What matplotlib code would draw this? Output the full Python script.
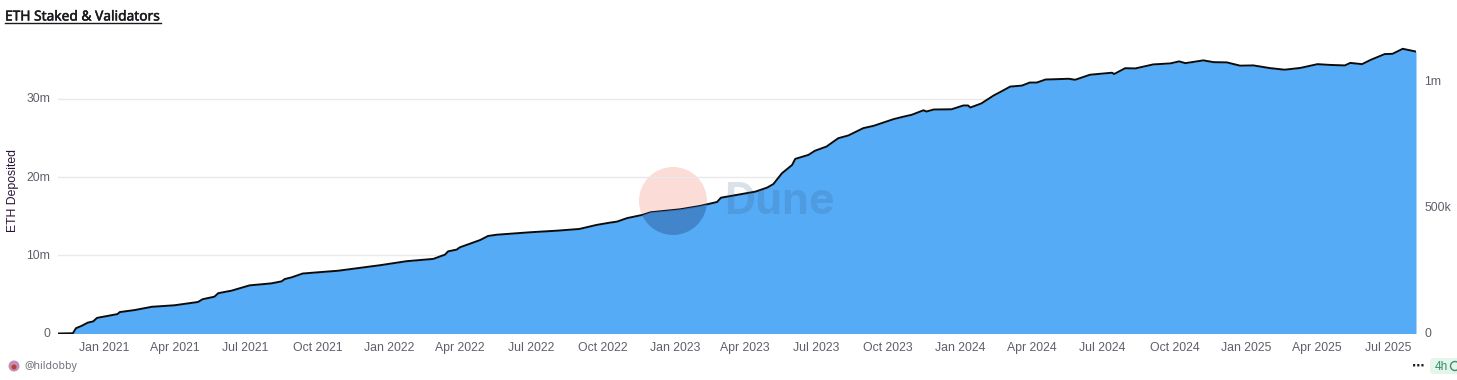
import matplotlib
matplotlib.use("Agg")
import matplotlib.pyplot as plt
import matplotlib.dates as mdates
import matplotlib.patheffects as pe
from matplotlib.patches import Circle, FancyBboxPatch
from matplotlib.transforms import ScaledTranslation
from datetime import datetime

plt.rcParams['font.family'] = ['Liberation Sans', 'DejaVu Sans']

dates = ['2020-11-03', '2020-11-22', '2020-11-26', '2020-12-03', '2020-12-11', '2020-12-18', '2020-12-23', '2021-01-06',
         '2021-01-18', '2021-01-21', '2021-02-09', '2021-03-03', '2021-04-01', '2021-05-01', '2021-05-07', '2021-05-22',
         '2021-05-27', '2021-06-13', '2021-07-06', '2021-08-03', '2021-08-16', '2021-08-20', '2021-08-29', '2021-09-12',
         '2021-10-06', '2021-10-27', '2021-12-20', '2022-01-23', '2022-02-26', '2022-03-13', '2022-03-17', '2022-03-28',
         '2022-04-01', '2022-04-27', '2022-05-07', '2022-05-18', '2022-07-01', '2022-08-03', '2022-09-01', '2022-09-23',
         '2022-10-10', '2022-10-19', '2022-11-01', '2022-11-21', '2022-12-01', '2023-01-08', '2023-02-02', '2023-02-24',
         '2023-03-01', '2023-04-14', '2023-04-29', '2023-05-07', '2023-05-18', '2023-05-31', '2023-06-04', '2023-06-21',
         '2023-06-29', '2023-07-14', '2023-07-29', '2023-08-11', '2023-08-30', '2023-09-12', '2023-10-08', '2023-10-21',
         '2023-10-31', '2023-11-15', '2023-11-19', '2023-11-28', '2023-12-21', '2024-01-05', '2024-01-11', '2024-01-14',
         '2024-01-28', '2024-02-13', '2024-02-21', '2024-03-05', '2024-03-20', '2024-03-30', '2024-04-08', '2024-04-19',
         '2024-05-19', '2024-05-27', '2024-06-15', '2024-07-13', '2024-07-16', '2024-07-30', '2024-08-12', '2024-09-04',
         '2024-09-26', '2024-10-07', '2024-10-15', '2024-11-07', '2024-11-20', '2024-12-07', '2024-12-24', '2025-01-10',
         '2025-02-01', '2025-02-19', '2025-03-11', '2025-04-02', '2025-04-18', '2025-05-07', '2025-05-14', '2025-05-29',
         '2025-06-09', '2025-06-27', '2025-07-07', '2025-07-20', '2025-08-06']

# ETH Deposited, millions
eth_deposited = [0, 0.03, 0.66, 0.96, 1.38, 1.56, 1.98, 2.24,
                 2.47, 2.75, 3.0, 3.43, 3.61, 4.03, 4.37, 4.71,
                 5.14, 5.47, 6.16, 6.42, 6.68, 6.97, 7.19, 7.65,
                 7.86, 8.03, 8.72, 9.23, 9.53, 10.08, 10.51, 10.72,
                 11.02, 11.96, 12.47, 12.63, 12.94, 13.15, 13.36, 13.87,
                 14.17, 14.3, 14.73, 15.15, 15.5, 15.88, 16.3, 16.81,
                 17.37, 18.13, 18.64, 19.08, 20.49, 21.55, 22.31, 22.83,
                 23.34, 23.89, 24.96, 25.29, 26.24, 26.53, 27.39, 27.72,
                 27.94, 28.54, 28.36, 28.62, 28.67, 29.13, 29.13, 28.87,
                 29.39, 30.41, 30.84, 31.56, 31.69, 32.07, 32.07, 32.46,
                 32.54, 32.42, 33.06, 33.31, 33.15, 33.91, 33.86, 34.37,
                 34.5, 34.76, 34.55, 34.89, 34.68, 34.63, 34.21, 34.25,
                 33.91, 33.7, 33.95, 34.42, 34.33, 34.25, 34.59, 34.42,
                 34.97, 35.7, 35.74, 36.38, 36.04]

# validators, thousands
validators = [0, 1, 21, 30, 43, 48, 62, 70,
              77, 85, 93, 106, 112, 125, 136, 146,
              160, 170, 191, 199, 207, 216, 223, 238,
              244, 249, 271, 287, 296, 313, 326, 333,
              342, 371, 387, 392, 402, 408, 415, 431,
              440, 444, 458, 471, 481, 493, 506, 522,
              539, 563, 579, 593, 636, 669, 693, 709,
              725, 742, 775, 786, 815, 824, 851, 861,
              868, 886, 881, 889, 890, 905, 905, 897,
              913, 945, 958, 980, 984, 996, 996, 1008,
              1011, 1007, 1027, 1035, 1030, 1053, 1052, 1068,
              1072, 1080, 1073, 1084, 1077, 1076, 1063, 1064,
              1053, 1047, 1054, 1069, 1066, 1064, 1074, 1069,
              1086, 1109, 1110, 1130, 1119]

tick_dates = ['2021-01-01', '2021-04-01', '2021-07-01', '2021-10-01', '2022-01-01', '2022-04-01', '2022-07-01',
              '2022-10-01', '2023-01-01', '2023-04-01', '2023-07-01', '2023-10-01', '2024-01-01', '2024-04-01',
              '2024-07-01', '2024-10-01', '2025-01-01', '2025-04-01', '2025-07-01']

x = [datetime.strptime(d, '%Y-%m-%d') for d in dates]
ticks = [datetime.strptime(d, '%Y-%m-%d') for d in tick_dates]
tick_color = '#5f5f6b'
W, H = 1457, 380

fig = plt.figure(figsize=(W / 100, H / 100), dpi=100, facecolor='white')
rect = [58 / W, 1 - 333.5 / H, (1416 - 58) / W, (333.5 - 42) / H]

# pixel axes for the things that are not data
under = fig.add_axes([0, 0, 1, 1], zorder=0)
over = fig.add_axes([0, 0, 1, 1], zorder=3)
for a in (under, over):
    a.set_xlim(0, W)
    a.set_ylim(H, 0)
    a.axis('off')
over.patch.set_alpha(0)

ax = fig.add_axes(rect, zorder=1)
ax.patch.set_alpha(0)
area = ax.fill_between(x, eth_deposited, 0, color='#56abf6', lw=0)
ax.set_xlim(datetime(2020, 11, 3), datetime(2025, 8, 6))
ax.set_ylim(0, 37.28)
ax.set_yticks([0, 10, 20, 30])
ax.set_yticklabels(['0', '10m', '20m', '30m'])
ax.set_xticks(ticks)
ax.xaxis.set_major_formatter(mdates.DateFormatter('%b %Y'))
ax.grid(True, axis='y', color='#e9e9ec', lw=1)
ax.set_axisbelow(True)
ax.tick_params(axis='both', length=0, labelsize=8.8, labelcolor=tick_color)
ax.tick_params(axis='x', pad=6)
ax.tick_params(axis='y', pad=5.5)
for s in ax.spines.values():
    s.set_visible(False)

ax2 = ax.twinx()
ax2.set_zorder(2)
ax2.patch.set_alpha(0)
ax2.plot(x, validators, color='#0b0b0b', lw=1.4, solid_joinstyle='round')
ax2.set_ylim(0, 1157)
ax2.set_yticks([0, 500, 1000])
ax2.set_yticklabels(['0', '500k', '1m'])
ax2.tick_params(axis='y', length=0, labelsize=8.8, labelcolor=tick_color, pad=6)
for s in ax2.spines.values():
    s.set_visible(False)

# y tick labels sit a bit above their gridlines
nudge = ScaledTranslation(0, 0.8 / 72, fig.dpi_scale_trans)
for lab in ax.get_yticklabels() + ax2.get_yticklabels():
    lab.set_transform(lab.get_transform() + nudge)

over.text(13, 191, 'ETH Deposited', fontsize=8.8, color='#2a1238', rotation=90, va='center', ha='center')

# watermark
under.add_patch(Circle((673, 201), 34, fc='#fcdcd7', ec='none'))
dark = Circle((673, 201), 34, fc='#3f7fc4', alpha=0.85, ec='none')
over.add_patch(dark)
dark.set_clip_path(area.get_paths()[0], ax.transData)
over.text(724, 203, 'Dune', fontsize=31, fontweight='bold', family='Inter', color='#2c4f78', alpha=0.17,
          va='center', ha='left')

# title
over.text(5, 17, 'ETH Staked & Validators', fontsize=9.9, family='Noto Sans', color='#1a1a1f', va='center', ha='left',
          path_effects=[pe.withStroke(linewidth=0.35, foreground='#1a1a1f')])
over.plot([5, 161], [23.3, 23.3], color='#1a1a1f', lw=1)

# footer
over.add_patch(Circle((14, 366), 5.5, fc='#c58fb5', ec='none'))
over.add_patch(Circle((14, 367), 2.5, fc='#b5413c', ec='none'))
over.text(24, 367, '@hildobby', fontsize=7.6, family='Noto Sans', color='#6f6f78', va='center', ha='left')
over.text(1418, 366, '\u22ef', fontsize=9, family='DejaVu Sans', fontweight='bold', color='#222222', va='center', ha='center')
over.add_patch(FancyBboxPatch((1430, 358), 40, 16, boxstyle='round,pad=0,rounding_size=4', fc='#e4f5ec', ec='none'))
over.text(1435, 366.5, '4h', fontsize=8.6, color='#3d8f6b', va='center', ha='left')
over.add_patch(Circle((1455, 366), 4.5, fc='none', ec='#3d8f6b', lw=1))

fig.savefig('out.png', dpi=100)
